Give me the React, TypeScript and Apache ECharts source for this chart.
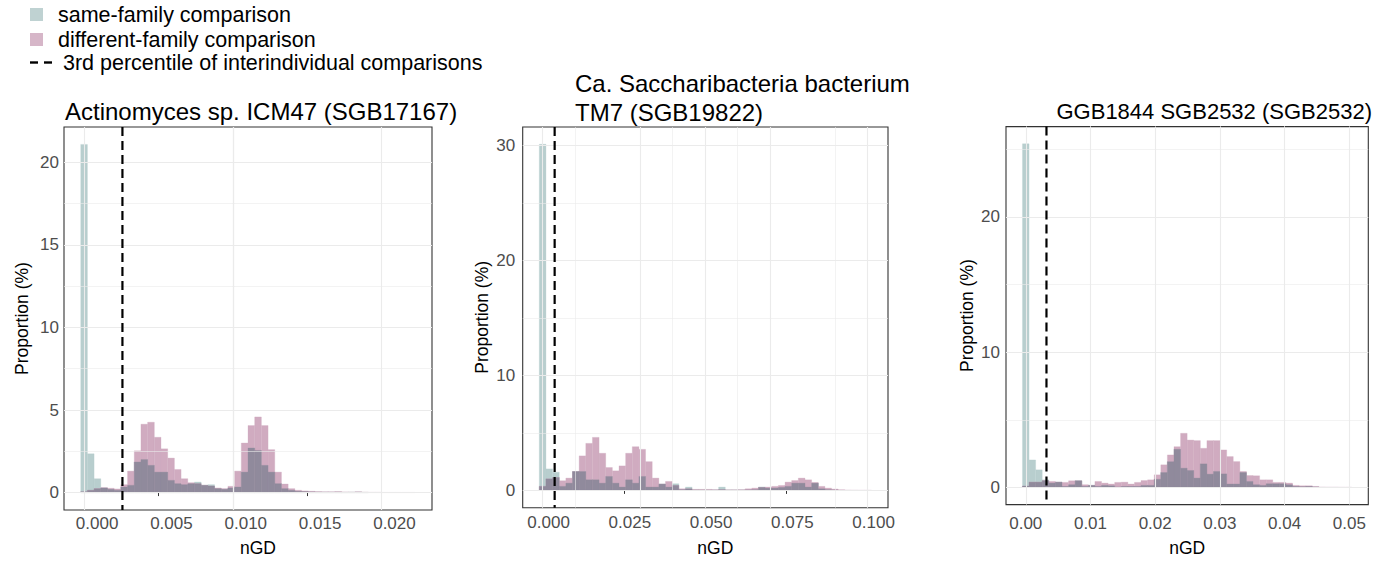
import React, { useEffect, useRef } from 'react';
import * as echarts from 'echarts';

const FAMILY = 'Liberation Sans, Arial, Helvetica, sans-serif';

// ---------------- data ----------------
const panelTitles = [
  'Actinomyces sp. ICM47 (SGB17167)',
  'Ca. Saccharibacteria bacterium\nTM7 (SGB19822)',
  'GGB1844 SGB2532 (SGB2532)',
];
const binWidths = [0.00045, 0.002044, 0.001018];
const thresholds = [0.00258, 0.0037, 0.0032];

const sameFamily1 = [21.08, 2.35, 0.84, 0.28, 0.2, 0.14, 0.34, 0.44, 1.85, 2.0, 1.65, 1.24, 1.24, 0.74, 0.54, 0.48, 0.54, 0.64, 0.44, 0.48, 0.24, 0.2, 0.28, 0.34, 1.24, 2.7, 2.55, 1.65, 1.24, 0.54, 0.24, 0.14, 0.08, 0.06, 0.04, 0.03, 0.02, 0.02, 0.03, 0.01, 0.02, 0.03, 0.01, 0, 0, 0, 0, 0, 0, 0];
const diffFamily1 = [0.05, 0.14, 0.24, 0.3, 0.26, 0.22, 0.48, 1.3, 2.53, 4.14, 4.26, 3.35, 2.65, 2.09, 1.4, 0.84, 0.6, 0.54, 0.44, 0.4, 0.28, 0.24, 0.38, 1.3, 3.0, 4.06, 4.58, 4.06, 2.6, 1.24, 0.52, 0.24, 0.14, 0.1, 0.08, 0.06, 0.05, 0.05, 0.06, 0.04, 0.03, 0.05, 0.03, 0.02, 0.02, 0.01, 0.01, 0.01, 0.01, 0.01];

const sameFamily2 = [30.1, 1.87, 1.58, 0.35, 0.63, 1.64, 1.64, 0.92, 0.92, 0.63, 1.21, 0.63, 0.29, 0.92, 0.63, 1.21, 0.29, 0.29, 0.55, 0.29, 0.58, 0.06, 0.29, 0.03, 0.02, 0.02, 0.03, 0.29, 0.02, 0.02, 0.03, 0.04, 0.06, 0.29, 0.2, 0.2, 0.26, 0.35, 0.63, 0.63, 0.29, 0.63, 0.14, 0.06, 0.02, 0, 0, 0, 0, 0];
const diffFamily2 = [0.35, 1.0, 1.12, 0.84, 1.07, 1.64, 3.0, 4.09, 4.61, 3.23, 1.99, 1.7, 2.13, 3.23, 3.8, 3.57, 2.5, 1.07, 0.55, 0.78, 0.43, 0.14, 0.14, 0.09, 0.09, 0.09, 0.06, 0.06, 0.05, 0.05, 0.06, 0.14, 0.2, 0.26, 0.29, 0.35, 0.43, 0.72, 0.86, 1.07, 0.92, 0.69, 0.35, 0.2, 0.12, 0.06, 0.03, 0.02, 0.01, 0.01];

const sameFamily3 = [25.4, 2.03, 1.3, 0.56, 0.32, 0.39, 0.07, 0.2, 0.49, 0.07, 0.15, 0.07, 0.15, 0.12, 0.03, 0.07, 0.07, 0.07, 0.15, 0.15, 0.6, 1.1, 1.9, 2.82, 1.42, 1.25, 0.69, 1.74, 0.98, 1.18, 1.0, 0.25, 0.25, 1.1, 0.44, 0.2, 0.15, 0.27, 0.27, 0.27, 0.2, 0.07, 0.05, 0.07, 0.03, 0, 0, 0, 0, 0];
const diffFamily3 = [0.1, 0.39, 0.39, 0.5, 0.44, 0.39, 0.37, 0.49, 0.49, 0.2, 0.15, 0.44, 0.32, 0.25, 0.37, 0.39, 0.25, 0.37, 0.51, 0.56, 0.93, 1.67, 2.4, 3.01, 4.0, 3.5, 3.46, 2.89, 3.46, 3.46, 2.77, 2.28, 1.91, 1.18, 0.88, 0.86, 0.56, 0.56, 0.37, 0.37, 0.32, 0.15, 0.12, 0.12, 0.07, 0.03, 0.02, 0.02, 0.01, 0.01];

const xTicks1 = [0, 0.005, 0.01, 0.015, 0.02];
const xTicks2 = [0, 0.025, 0.05, 0.075, 0.1];
const xTicks3 = [0, 0.01, 0.02, 0.03, 0.04, 0.05];
const xDecimals = [3, 3, 2];
const yTicks1 = [0, 5, 10, 15, 20];
const yTicks2 = [0, 10, 20, 30];
const yTicks3 = [0, 10, 20];

const legendLabels = ['same-family comparison', 'different-family comparison', '3rd percentile of interindividual comparisons'];

// ---------------- style / layout ----------------
const TEAL = '#b8cece';
const PINK = '#d0abc0';
const OVERLAP = '#908a9c';
const GRID_COLOR = '#ebebeb';

const grids = [
  { left: 64, top: 127, width: 368, height: 385 },
  { left: 522.7, top: 127, width: 365.3, height: 382.7 },
  { left: 1006, top: 126.6, width: 362.3, height: 380 },
];
const xLabelMargin = [4.5, 6.5, 10];
const xLabelShift = [13, 6, 0];
const xNameShift = [10, 10, 0];
const yLabelMargin = [5, 7.5, 6];
const yNameGap = [33, 31.5, 30];

export default function App() {
  const ref = useRef<HTMLDivElement>(null);
  useEffect(() => {
    document.body.style.margin = '0';
    if (!ref.current) return;
    const chart = echarts.init(ref.current, null, { renderer: 'svg' });

    const same = [sameFamily1, sameFamily2, sameFamily3];
    const diff = [diffFamily1, diffFamily2, diffFamily3];
    const xTicks = [xTicks1, xTicks2, xTicks3];
    const yTicks = [yTicks1, yTicks2, yTicks3];

    const xAxes: any[] = [];
    const yAxes: any[] = [];
    const series: any[] = [];

    const minorOf = (ticks: number[], lo: number, hi: number) => {
      const step = ticks[1] - ticks[0];
      const res: number[] = [];
      for (let i = -1; i < ticks.length; i++) {
        const v = ticks[0] + (i + 0.5) * step;
        if (v > lo && v < hi) res.push(v);
      }
      return res;
    };

    for (let p = 0; p < 3; p++) {
      const bw = binWidths[p];
      const n = same[p].length;
      const w = n * bw;
      const xmin = -bw / 2 - 0.05 * w;
      const xmax = (n - 0.5) * bw + 0.05 * w;
      const maxVal = Math.max(...same[p], ...diff[p]);
      const ymin = -0.05 * maxVal;
      const ymax = 1.05 * maxVal;
      const g = grids[p];
      const bottom = g.top + g.height;

      xAxes.push({
        type: 'value', gridIndex: p, min: xmin, max: xmax,
        name: 'nGD', nameLocation: 'middle', nameGap: 541 - bottom,
        nameTextStyle: { fontFamily: FAMILY, fontSize: 17.5, color: '#000', padding: [0, 0, 0, 2 * xNameShift[p]] },
        axisLine: { show: false },
        axisTick: { show: true, customValues: xTicks[p], length: 3.5, lineStyle: { color: '#333', width: 1 } },
        axisLabel: {
          customValues: xTicks[p], margin: xLabelMargin[p], fontFamily: FAMILY, fontSize: 17, color: '#4d4d4d',
          padding: [0, 0, 0, 2 * xLabelShift[p]],
          formatter: (v: number) => v.toFixed(xDecimals[p]),
        },
        splitLine: { show: false },
      });
      yAxes.push({
        type: 'value', gridIndex: p, min: ymin, max: ymax,
        name: 'Proportion (%)', nameLocation: 'middle', nameGap: yNameGap[p],
        nameTextStyle: { fontFamily: FAMILY, fontSize: 17.5, color: '#000' },
        axisLine: { show: false },
        axisTick: { show: true, customValues: yTicks[p], length: 3.5, lineStyle: { color: '#333', width: 1 } },
        axisLabel: {
          customValues: yTicks[p], margin: yLabelMargin[p], fontFamily: FAMILY, fontSize: 17, color: '#4d4d4d',
          formatter: (v: number) => String(Math.round(v)),
        },
        splitLine: { show: false },
      });

      const xMinor = minorOf(xTicks[p], xmin, xmax);
      const yMinor = minorOf(yTicks[p], ymin, ymax);
      const gridLines = [
        ...xMinor.map((v) => ({ xAxis: v, lineStyle: { width: 0.6 } })),
        ...yMinor.map((v) => ({ yAxis: v, lineStyle: { width: 0.6 } })),
        ...xTicks[p].map((v) => ({ xAxis: v, lineStyle: { width: 1.1 } })),
        ...yTicks[p].map((v) => ({ yAxis: v, lineStyle: { width: 1.1 } })),
      ];
      series.push({
        type: 'line', xAxisIndex: p, yAxisIndex: p, data: [], z: 1, silent: true,
        markLine: {
          silent: true, symbol: ['none', 'none'], label: { show: false }, animation: false,
          lineStyle: { color: GRID_COLOR, type: 'solid', width: 1 },
          data: gridLines,
        },
      });

      const makeBars = (values: number[], color: string, name: string, z: number) => ({
        type: 'custom', name, xAxisIndex: p, yAxisIndex: p, z, silent: true,
        data: values.map((v, i) => [i * bw, v]),
        encode: { x: 0, y: 1 },
        renderItem: (params: any, api: any) => {
          const x = api.value(0);
          const y = api.value(1);
          if (!(y > 0)) return null;
          const p1 = api.coord([x - bw / 2, y]);
          const p2 = api.coord([x + bw / 2, 0]);
          return {
            type: 'rect',
            shape: { x: p1[0], y: p1[1], width: p2[0] - p1[0], height: p2[1] - p1[1] },
            style: { fill: color, stroke: color, lineWidth: 0.3 },
          };
        },
      });
      const overlap = same[p].map((v, i) => Math.min(v, diff[p][i]));
      series.push(makeBars(same[p], TEAL, 'same-family comparison', 2));
      series.push(makeBars(diff[p], PINK, 'different-family comparison', 3));
      series.push(makeBars(overlap, OVERLAP, 'overlap', 4));

      series.push({
        type: 'custom', name: 'threshold', xAxisIndex: p, yAxisIndex: p, z: 5, silent: true,
        data: [[thresholds[p], 0]],
        encode: { x: 0, y: 1 },
        renderItem: (params: any, api: any) => {
          const x = api.value(0);
          const a = api.coord([x, ymax]);
          const b = api.coord([x, ymin]);
          return {
            type: 'line',
            shape: { x1: a[0], y1: a[1], x2: b[0], y2: b[1] },
            style: { stroke: '#000', lineWidth: 2.2, lineDash: [9, 5] },
          };
        },
      });
    }

    const titleStyle = { fontFamily: FAMILY, fontSize: 24, fontWeight: 'normal', color: '#000' };
    const titles = [
      { text: panelTitles[0], left: 65, top: 99, padding: 0, textStyle: titleStyle },
      { text: panelTitles[1], left: 575, top: 69, padding: 0, textStyle: { ...titleStyle, lineHeight: 29 } },
      { text: panelTitles[2], right: 18, top: 100, padding: 0, textStyle: { ...titleStyle, fontSize: 22 } },
    ];

    const legendFont = { fontFamily: FAMILY, fontSize: 21.5, fill: '#000' };
    const graphic: any[] = [
      { type: 'rect', left: 30, top: 8, shape: { width: 13, height: 13 }, style: { fill: '#bfd2d2' } },
      { type: 'text', x: 58, y: 15, style: { ...legendFont, text: legendLabels[0], verticalAlign: 'middle' } },
      { type: 'rect', left: 30, top: 33, shape: { width: 13, height: 13 }, style: { fill: '#d6b6c8' } },
      { type: 'text', x: 58, y: 39.5, style: { ...legendFont, text: legendLabels[1], verticalAlign: 'middle' } },
      { type: 'line', shape: { x1: 30, y1: 62.5, x2: 38, y2: 62.5 }, style: { stroke: '#000', lineWidth: 2.4 } },
      { type: 'line', shape: { x1: 44, y1: 62.5, x2: 52, y2: 62.5 }, style: { stroke: '#000', lineWidth: 2.4 } },
      { type: 'text', x: 63, y: 62.5, style: { ...legendFont, text: legendLabels[2], verticalAlign: 'middle' } },
    ];

    chart.setOption({
      animation: false,
      backgroundColor: '#ffffff',
      textStyle: { fontFamily: FAMILY },
      title: titles,
      grid: grids.map((g) => ({ ...g, show: true, borderColor: '#333333', borderWidth: 1.1, backgroundColor: 'transparent', containLabel: false })),
      xAxis: xAxes,
      yAxis: yAxes,
      series,
      graphic,
    });
    return () => chart.dispose();
  }, []);
  return <div ref={ref} style={{ width: 1390, height: 562 }} />;
}
